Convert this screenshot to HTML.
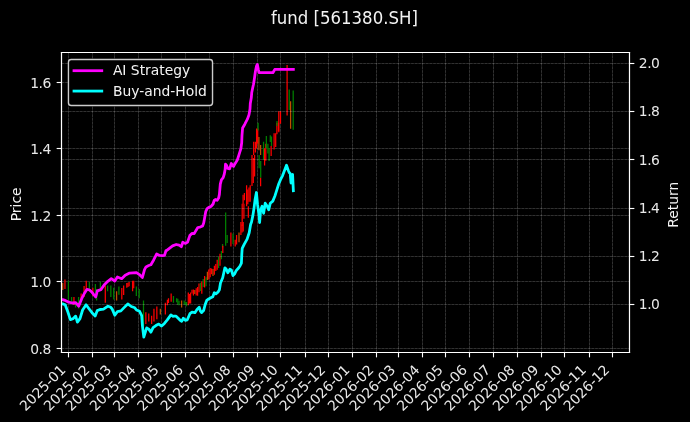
<!DOCTYPE html>
<html><head><meta charset="utf-8"><title>fund [561380.SH]</title>
<style>html,body{margin:0;padding:0;background:#000;width:690px;height:422px;overflow:hidden}
svg{display:block}
svg text{font-family:"DejaVu Sans","Liberation Sans",sans-serif}</style></head>
<body>
<svg width="690" height="422" viewBox="0 0 496.8 303.84" version="1.1">
 
 <defs>
  <style type="text/css">*{stroke-linejoin: round; stroke-linecap: butt}</style>
 </defs>
 <g id="figure_1">
  <g id="patch_1">
   <path d="M 0 303.84 
L 496.8 303.84 
L 496.8 0 
L 0 0 
z
"/>
  </g>
  <g id="axes_1">
   <g id="patch_2">
    <path d="M 44.28 253.8 
L 453.24 253.8 
L 453.24 37.8 
L 44.28 37.8 
z
"/>
   </g>
   <g id="line2d_1">
    <path d="M 44.28 250.92 
L 453.24 250.92 
" clip-path="url(#p5702a8e54e)" style="fill: none; stroke-dasharray: 1.85,0.8; stroke-dashoffset: 0; stroke: #ffffff; stroke-opacity: 0.18; stroke-width: 0.5"/>
   </g>
   <g id="line2d_2">
    <path d="M 44.28 250.92 
L 453.24 250.92 
" clip-path="url(#p5702a8e54e)" style="fill: none; stroke: #ffffff; stroke-opacity: 0.12; stroke-width: 0.5; stroke-linecap: square"/>
   </g>
   <g id="line2d_3">
    <path d="M 44.28 202.68 
L 453.24 202.68 
" clip-path="url(#p5702a8e54e)" style="fill: none; stroke-dasharray: 1.85,0.8; stroke-dashoffset: 0; stroke: #ffffff; stroke-opacity: 0.18; stroke-width: 0.5"/>
   </g>
   <g id="line2d_4">
    <path d="M 44.28 202.68 
L 453.24 202.68 
" clip-path="url(#p5702a8e54e)" style="fill: none; stroke: #ffffff; stroke-opacity: 0.12; stroke-width: 0.5; stroke-linecap: square"/>
   </g>
   <g id="line2d_5">
    <path d="M 44.28 155.16 
L 453.24 155.16 
" clip-path="url(#p5702a8e54e)" style="fill: none; stroke-dasharray: 1.85,0.8; stroke-dashoffset: 0; stroke: #ffffff; stroke-opacity: 0.18; stroke-width: 0.5"/>
   </g>
   <g id="line2d_6">
    <path d="M 44.28 155.16 
L 453.24 155.16 
" clip-path="url(#p5702a8e54e)" style="fill: none; stroke: #ffffff; stroke-opacity: 0.12; stroke-width: 0.5; stroke-linecap: square"/>
   </g>
   <g id="line2d_7">
    <path d="M 44.28 106.92 
L 453.24 106.92 
" clip-path="url(#p5702a8e54e)" style="fill: none; stroke-dasharray: 1.85,0.8; stroke-dashoffset: 0; stroke: #ffffff; stroke-opacity: 0.18; stroke-width: 0.5"/>
   </g>
   <g id="line2d_8">
    <path d="M 44.28 106.92 
L 453.24 106.92 
" clip-path="url(#p5702a8e54e)" style="fill: none; stroke: #ffffff; stroke-opacity: 0.12; stroke-width: 0.5; stroke-linecap: square"/>
   </g>
   <g id="line2d_9">
    <path d="M 44.28 59.4 
L 453.24 59.4 
" clip-path="url(#p5702a8e54e)" style="fill: none; stroke-dasharray: 1.85,0.8; stroke-dashoffset: 0; stroke: #ffffff; stroke-opacity: 0.18; stroke-width: 0.5"/>
   </g>
   <g id="line2d_10">
    <path d="M 44.28 59.4 
L 453.24 59.4 
" clip-path="url(#p5702a8e54e)" style="fill: none; stroke: #ffffff; stroke-opacity: 0.12; stroke-width: 0.5; stroke-linecap: square"/>
   </g>
   <g id="line2d_11">
    <path d="M 49.32 253.8 
L 49.32 37.8 
" clip-path="url(#p5702a8e54e)" style="fill: none; stroke-dasharray: 1.85,0.8; stroke-dashoffset: 0; stroke: #ffffff; stroke-opacity: 0.18; stroke-width: 0.5"/>
   </g>
   <g id="line2d_12">
    <path d="M 49.32 253.8 
L 49.32 37.8 
" clip-path="url(#p5702a8e54e)" style="fill: none; stroke: #ffffff; stroke-opacity: 0.12; stroke-width: 0.5; stroke-linecap: square"/>
   </g>
   <g id="line2d_13">
    <path d="M 66.6 253.8 
L 66.6 37.8 
" clip-path="url(#p5702a8e54e)" style="fill: none; stroke-dasharray: 1.85,0.8; stroke-dashoffset: 0; stroke: #ffffff; stroke-opacity: 0.18; stroke-width: 0.5"/>
   </g>
   <g id="line2d_14">
    <path d="M 66.6 253.8 
L 66.6 37.8 
" clip-path="url(#p5702a8e54e)" style="fill: none; stroke: #ffffff; stroke-opacity: 0.12; stroke-width: 0.5; stroke-linecap: square"/>
   </g>
   <g id="line2d_15">
    <path d="M 82.44 253.8 
L 82.44 37.8 
" clip-path="url(#p5702a8e54e)" style="fill: none; stroke-dasharray: 1.85,0.8; stroke-dashoffset: 0; stroke: #ffffff; stroke-opacity: 0.18; stroke-width: 0.5"/>
   </g>
   <g id="line2d_16">
    <path d="M 82.44 253.8 
L 82.44 37.8 
" clip-path="url(#p5702a8e54e)" style="fill: none; stroke: #ffffff; stroke-opacity: 0.12; stroke-width: 0.5; stroke-linecap: square"/>
   </g>
   <g id="line2d_17">
    <path d="M 99.72 253.8 
L 99.72 37.8 
" clip-path="url(#p5702a8e54e)" style="fill: none; stroke-dasharray: 1.85,0.8; stroke-dashoffset: 0; stroke: #ffffff; stroke-opacity: 0.18; stroke-width: 0.5"/>
   </g>
   <g id="line2d_18">
    <path d="M 99.72 253.8 
L 99.72 37.8 
" clip-path="url(#p5702a8e54e)" style="fill: none; stroke: #ffffff; stroke-opacity: 0.12; stroke-width: 0.5; stroke-linecap: square"/>
   </g>
   <g id="line2d_19">
    <path d="M 116.28 253.8 
L 116.28 37.8 
" clip-path="url(#p5702a8e54e)" style="fill: none; stroke-dasharray: 1.85,0.8; stroke-dashoffset: 0; stroke: #ffffff; stroke-opacity: 0.18; stroke-width: 0.5"/>
   </g>
   <g id="line2d_20">
    <path d="M 116.28 253.8 
L 116.28 37.8 
" clip-path="url(#p5702a8e54e)" style="fill: none; stroke: #ffffff; stroke-opacity: 0.12; stroke-width: 0.5; stroke-linecap: square"/>
   </g>
   <g id="line2d_21">
    <path d="M 133.56 253.8 
L 133.56 37.8 
" clip-path="url(#p5702a8e54e)" style="fill: none; stroke-dasharray: 1.85,0.8; stroke-dashoffset: 0; stroke: #ffffff; stroke-opacity: 0.18; stroke-width: 0.5"/>
   </g>
   <g id="line2d_22">
    <path d="M 133.56 253.8 
L 133.56 37.8 
" clip-path="url(#p5702a8e54e)" style="fill: none; stroke: #ffffff; stroke-opacity: 0.12; stroke-width: 0.5; stroke-linecap: square"/>
   </g>
   <g id="line2d_23">
    <path d="M 150.84 253.8 
L 150.84 37.8 
" clip-path="url(#p5702a8e54e)" style="fill: none; stroke-dasharray: 1.85,0.8; stroke-dashoffset: 0; stroke: #ffffff; stroke-opacity: 0.18; stroke-width: 0.5"/>
   </g>
   <g id="line2d_24">
    <path d="M 150.84 253.8 
L 150.84 37.8 
" clip-path="url(#p5702a8e54e)" style="fill: none; stroke: #ffffff; stroke-opacity: 0.12; stroke-width: 0.5; stroke-linecap: square"/>
   </g>
   <g id="line2d_25">
    <path d="M 168.12 253.8 
L 168.12 37.8 
" clip-path="url(#p5702a8e54e)" style="fill: none; stroke-dasharray: 1.85,0.8; stroke-dashoffset: 0; stroke: #ffffff; stroke-opacity: 0.18; stroke-width: 0.5"/>
   </g>
   <g id="line2d_26">
    <path d="M 168.12 253.8 
L 168.12 37.8 
" clip-path="url(#p5702a8e54e)" style="fill: none; stroke: #ffffff; stroke-opacity: 0.12; stroke-width: 0.5; stroke-linecap: square"/>
   </g>
   <g id="line2d_27">
    <path d="M 185.4 253.8 
L 185.4 37.8 
" clip-path="url(#p5702a8e54e)" style="fill: none; stroke-dasharray: 1.85,0.8; stroke-dashoffset: 0; stroke: #ffffff; stroke-opacity: 0.18; stroke-width: 0.5"/>
   </g>
   <g id="line2d_28">
    <path d="M 185.4 253.8 
L 185.4 37.8 
" clip-path="url(#p5702a8e54e)" style="fill: none; stroke: #ffffff; stroke-opacity: 0.12; stroke-width: 0.5; stroke-linecap: square"/>
   </g>
   <g id="line2d_29">
    <path d="M 201.96 253.8 
L 201.96 37.8 
" clip-path="url(#p5702a8e54e)" style="fill: none; stroke-dasharray: 1.85,0.8; stroke-dashoffset: 0; stroke: #ffffff; stroke-opacity: 0.18; stroke-width: 0.5"/>
   </g>
   <g id="line2d_30">
    <path d="M 201.96 253.8 
L 201.96 37.8 
" clip-path="url(#p5702a8e54e)" style="fill: none; stroke: #ffffff; stroke-opacity: 0.12; stroke-width: 0.5; stroke-linecap: square"/>
   </g>
   <g id="line2d_31">
    <path d="M 219.96 253.8 
L 219.96 37.8 
" clip-path="url(#p5702a8e54e)" style="fill: none; stroke-dasharray: 1.85,0.8; stroke-dashoffset: 0; stroke: #ffffff; stroke-opacity: 0.18; stroke-width: 0.5"/>
   </g>
   <g id="line2d_32">
    <path d="M 219.96 253.8 
L 219.96 37.8 
" clip-path="url(#p5702a8e54e)" style="fill: none; stroke: #ffffff; stroke-opacity: 0.12; stroke-width: 0.5; stroke-linecap: square"/>
   </g>
   <g id="line2d_33">
    <path d="M 236.52 253.8 
L 236.52 37.8 
" clip-path="url(#p5702a8e54e)" style="fill: none; stroke-dasharray: 1.85,0.8; stroke-dashoffset: 0; stroke: #ffffff; stroke-opacity: 0.18; stroke-width: 0.5"/>
   </g>
   <g id="line2d_34">
    <path d="M 236.52 253.8 
L 236.52 37.8 
" clip-path="url(#p5702a8e54e)" style="fill: none; stroke: #ffffff; stroke-opacity: 0.12; stroke-width: 0.5; stroke-linecap: square"/>
   </g>
   <g id="line2d_35">
    <path d="M 253.8 253.8 
L 253.8 37.8 
" clip-path="url(#p5702a8e54e)" style="fill: none; stroke-dasharray: 1.85,0.8; stroke-dashoffset: 0; stroke: #ffffff; stroke-opacity: 0.18; stroke-width: 0.5"/>
   </g>
   <g id="line2d_36">
    <path d="M 253.8 253.8 
L 253.8 37.8 
" clip-path="url(#p5702a8e54e)" style="fill: none; stroke: #ffffff; stroke-opacity: 0.12; stroke-width: 0.5; stroke-linecap: square"/>
   </g>
   <g id="line2d_37">
    <path d="M 271.08 253.8 
L 271.08 37.8 
" clip-path="url(#p5702a8e54e)" style="fill: none; stroke-dasharray: 1.85,0.8; stroke-dashoffset: 0; stroke: #ffffff; stroke-opacity: 0.18; stroke-width: 0.5"/>
   </g>
   <g id="line2d_38">
    <path d="M 271.08 253.8 
L 271.08 37.8 
" clip-path="url(#p5702a8e54e)" style="fill: none; stroke: #ffffff; stroke-opacity: 0.12; stroke-width: 0.5; stroke-linecap: square"/>
   </g>
   <g id="line2d_39">
    <path d="M 286.92 253.8 
L 286.92 37.8 
" clip-path="url(#p5702a8e54e)" style="fill: none; stroke-dasharray: 1.85,0.8; stroke-dashoffset: 0; stroke: #ffffff; stroke-opacity: 0.18; stroke-width: 0.5"/>
   </g>
   <g id="line2d_40">
    <path d="M 286.92 253.8 
L 286.92 37.8 
" clip-path="url(#p5702a8e54e)" style="fill: none; stroke: #ffffff; stroke-opacity: 0.12; stroke-width: 0.5; stroke-linecap: square"/>
   </g>
   <g id="line2d_41">
    <path d="M 304.2 253.8 
L 304.2 37.8 
" clip-path="url(#p5702a8e54e)" style="fill: none; stroke-dasharray: 1.85,0.8; stroke-dashoffset: 0; stroke: #ffffff; stroke-opacity: 0.18; stroke-width: 0.5"/>
   </g>
   <g id="line2d_42">
    <path d="M 304.2 253.8 
L 304.2 37.8 
" clip-path="url(#p5702a8e54e)" style="fill: none; stroke: #ffffff; stroke-opacity: 0.12; stroke-width: 0.5; stroke-linecap: square"/>
   </g>
   <g id="line2d_43">
    <path d="M 320.76 253.8 
L 320.76 37.8 
" clip-path="url(#p5702a8e54e)" style="fill: none; stroke-dasharray: 1.85,0.8; stroke-dashoffset: 0; stroke: #ffffff; stroke-opacity: 0.18; stroke-width: 0.5"/>
   </g>
   <g id="line2d_44">
    <path d="M 320.76 253.8 
L 320.76 37.8 
" clip-path="url(#p5702a8e54e)" style="fill: none; stroke: #ffffff; stroke-opacity: 0.12; stroke-width: 0.5; stroke-linecap: square"/>
   </g>
   <g id="line2d_45">
    <path d="M 338.04 253.8 
L 338.04 37.8 
" clip-path="url(#p5702a8e54e)" style="fill: none; stroke-dasharray: 1.85,0.8; stroke-dashoffset: 0; stroke: #ffffff; stroke-opacity: 0.18; stroke-width: 0.5"/>
   </g>
   <g id="line2d_46">
    <path d="M 338.04 253.8 
L 338.04 37.8 
" clip-path="url(#p5702a8e54e)" style="fill: none; stroke: #ffffff; stroke-opacity: 0.12; stroke-width: 0.5; stroke-linecap: square"/>
   </g>
   <g id="line2d_47">
    <path d="M 355.32 253.8 
L 355.32 37.8 
" clip-path="url(#p5702a8e54e)" style="fill: none; stroke-dasharray: 1.85,0.8; stroke-dashoffset: 0; stroke: #ffffff; stroke-opacity: 0.18; stroke-width: 0.5"/>
   </g>
   <g id="line2d_48">
    <path d="M 355.32 253.8 
L 355.32 37.8 
" clip-path="url(#p5702a8e54e)" style="fill: none; stroke: #ffffff; stroke-opacity: 0.12; stroke-width: 0.5; stroke-linecap: square"/>
   </g>
   <g id="line2d_49">
    <path d="M 372.6 253.8 
L 372.6 37.8 
" clip-path="url(#p5702a8e54e)" style="fill: none; stroke-dasharray: 1.85,0.8; stroke-dashoffset: 0; stroke: #ffffff; stroke-opacity: 0.18; stroke-width: 0.5"/>
   </g>
   <g id="line2d_50">
    <path d="M 372.6 253.8 
L 372.6 37.8 
" clip-path="url(#p5702a8e54e)" style="fill: none; stroke: #ffffff; stroke-opacity: 0.12; stroke-width: 0.5; stroke-linecap: square"/>
   </g>
   <g id="line2d_51">
    <path d="M 389.88 253.8 
L 389.88 37.8 
" clip-path="url(#p5702a8e54e)" style="fill: none; stroke-dasharray: 1.85,0.8; stroke-dashoffset: 0; stroke: #ffffff; stroke-opacity: 0.18; stroke-width: 0.5"/>
   </g>
   <g id="line2d_52">
    <path d="M 389.88 253.8 
L 389.88 37.8 
" clip-path="url(#p5702a8e54e)" style="fill: none; stroke: #ffffff; stroke-opacity: 0.12; stroke-width: 0.5; stroke-linecap: square"/>
   </g>
   <g id="line2d_53">
    <path d="M 406.44 253.8 
L 406.44 37.8 
" clip-path="url(#p5702a8e54e)" style="fill: none; stroke-dasharray: 1.85,0.8; stroke-dashoffset: 0; stroke: #ffffff; stroke-opacity: 0.18; stroke-width: 0.5"/>
   </g>
   <g id="line2d_54">
    <path d="M 406.44 253.8 
L 406.44 37.8 
" clip-path="url(#p5702a8e54e)" style="fill: none; stroke: #ffffff; stroke-opacity: 0.12; stroke-width: 0.5; stroke-linecap: square"/>
   </g>
   <g id="line2d_55">
    <path d="M 424.44 253.8 
L 424.44 37.8 
" clip-path="url(#p5702a8e54e)" style="fill: none; stroke-dasharray: 1.85,0.8; stroke-dashoffset: 0; stroke: #ffffff; stroke-opacity: 0.18; stroke-width: 0.5"/>
   </g>
   <g id="line2d_56">
    <path d="M 424.44 253.8 
L 424.44 37.8 
" clip-path="url(#p5702a8e54e)" style="fill: none; stroke: #ffffff; stroke-opacity: 0.12; stroke-width: 0.5; stroke-linecap: square"/>
   </g>
   <g id="line2d_57">
    <path d="M 441 253.8 
L 441 37.8 
" clip-path="url(#p5702a8e54e)" style="fill: none; stroke-dasharray: 1.85,0.8; stroke-dashoffset: 0; stroke: #ffffff; stroke-opacity: 0.18; stroke-width: 0.5"/>
   </g>
   <g id="line2d_58">
    <path d="M 441 253.8 
L 441 37.8 
" clip-path="url(#p5702a8e54e)" style="fill: none; stroke: #ffffff; stroke-opacity: 0.12; stroke-width: 0.5; stroke-linecap: square"/>
   </g>
   <g id="matplotlib.axis_1">
    <g id="xtick_1">
     <g id="line2d_59">
      <g>
       <path d="M 0 0  L 0 3.5  " transform="translate(49.3200 253.8000)" style="fill: #ffffff; stroke: #ffffff; stroke-width: 0.8"/>
      </g>
     </g>
     <g id="text_1">
      <g transform="translate(0.000 0.720)"><text style="font-size: 10px; font-family: 'DejaVu Sans', 'Liberation Sans', sans-serif; fill: #e9e9e9" transform="translate(18.306501 295.717817) rotate(-45)">2025-01</text></g>
     </g>
    </g>
    <g id="xtick_2">
     <g id="line2d_60">
      <g>
       <path d="M 0 0  L 0 3.5  " transform="translate(66.6000 253.8000)" style="fill: #ffffff; stroke: #ffffff; stroke-width: 0.8"/>
      </g>
     </g>
     <g id="text_2">
      <g transform="translate(0.000 0.720)"><text style="font-size: 10px; font-family: 'DejaVu Sans', 'Liberation Sans', sans-serif; fill: #e9e9e9" transform="translate(35.673296 295.717817) rotate(-45)">2025-02</text></g>
     </g>
    </g>
    <g id="xtick_3">
     <g id="line2d_61">
      <g>
       <path d="M 0 0  L 0 3.5  " transform="translate(82.4400 253.8000)" style="fill: #ffffff; stroke: #ffffff; stroke-width: 0.8"/>
      </g>
     </g>
     <g id="text_3">
      <g transform="translate(0.000 0.720)"><text style="font-size: 10px; font-family: 'DejaVu Sans', 'Liberation Sans', sans-serif; fill: #e9e9e9" transform="translate(51.359433 295.717817) rotate(-45)">2025-03</text></g>
     </g>
    </g>
    <g id="xtick_4">
     <g id="line2d_62">
      <g>
       <path d="M 0 0  L 0 3.5  " transform="translate(99.7200 253.8000)" style="fill: #ffffff; stroke: #ffffff; stroke-width: 0.8"/>
      </g>
     </g>
     <g id="text_4">
      <g transform="translate(0.000 0.720)"><text style="font-size: 10px; font-family: 'DejaVu Sans', 'Liberation Sans', sans-serif; fill: #e9e9e9" transform="translate(68.726227 295.717817) rotate(-45)">2025-04</text></g>
     </g>
    </g>
    <g id="xtick_5">
     <g id="line2d_63">
      <g>
       <path d="M 0 0  L 0 3.5  " transform="translate(116.2800 253.8000)" style="fill: #ffffff; stroke: #ffffff; stroke-width: 0.8"/>
      </g>
     </g>
     <g id="text_5">
      <g transform="translate(0.000 0.720)"><text style="font-size: 10px; font-family: 'DejaVu Sans', 'Liberation Sans', sans-serif; fill: #e9e9e9" transform="translate(85.532803 295.717817) rotate(-45)">2025-05</text></g>
     </g>
    </g>
    <g id="xtick_6">
     <g id="line2d_64">
      <g>
       <path d="M 0 0  L 0 3.5  " transform="translate(133.5600 253.8000)" style="fill: #ffffff; stroke: #ffffff; stroke-width: 0.8"/>
      </g>
     </g>
     <g id="text_6">
      <g transform="translate(0.000 0.720)"><text style="font-size: 10px; font-family: 'DejaVu Sans', 'Liberation Sans', sans-serif; fill: #e9e9e9" transform="translate(102.899597 295.717817) rotate(-45)">2025-06</text></g>
     </g>
    </g>
    <g id="xtick_7">
     <g id="line2d_65">
      <g>
       <path d="M 0 0  L 0 3.5  " transform="translate(150.8400 253.8000)" style="fill: #ffffff; stroke: #ffffff; stroke-width: 0.8"/>
      </g>
     </g>
     <g id="text_7">
      <g transform="translate(0.000 0.720)"><text style="font-size: 10px; font-family: 'DejaVu Sans', 'Liberation Sans', sans-serif; fill: #e9e9e9" transform="translate(119.706173 295.717817) rotate(-45)">2025-07</text></g>
     </g>
    </g>
    <g id="xtick_8">
     <g id="line2d_66">
      <g>
       <path d="M 0 0  L 0 3.5  " transform="translate(168.1200 253.8000)" style="fill: #ffffff; stroke: #ffffff; stroke-width: 0.8"/>
      </g>
     </g>
     <g id="text_8">
      <g transform="translate(0.000 0.720)"><text style="font-size: 10px; font-family: 'DejaVu Sans', 'Liberation Sans', sans-serif; fill: #e9e9e9" transform="translate(137.072967 295.717817) rotate(-45)">2025-08</text></g>
     </g>
    </g>
    <g id="xtick_9">
     <g id="line2d_67">
      <g>
       <path d="M 0 0  L 0 3.5  " transform="translate(185.4000 253.8000)" style="fill: #ffffff; stroke: #ffffff; stroke-width: 0.8"/>
      </g>
     </g>
     <g id="text_9">
      <g transform="translate(0.000 0.720)"><text style="font-size: 10px; font-family: 'DejaVu Sans', 'Liberation Sans', sans-serif; fill: #e9e9e9" transform="translate(154.439762 295.717817) rotate(-45)">2025-09</text></g>
     </g>
    </g>
    <g id="xtick_10">
     <g id="line2d_68">
      <g>
       <path d="M 0 0  L 0 3.5  " transform="translate(201.9600 253.8000)" style="fill: #ffffff; stroke: #ffffff; stroke-width: 0.8"/>
      </g>
     </g>
     <g id="text_10">
      <g transform="translate(0.000 0.720)"><text style="font-size: 10px; font-family: 'DejaVu Sans', 'Liberation Sans', sans-serif; fill: #e9e9e9" transform="translate(171.246337 295.717817) rotate(-45)">2025-10</text></g>
     </g>
    </g>
    <g id="xtick_11">
     <g id="line2d_69">
      <g>
       <path d="M 0 0  L 0 3.5  " transform="translate(219.9600 253.8000)" style="fill: #ffffff; stroke: #ffffff; stroke-width: 0.8"/>
      </g>
     </g>
     <g id="text_11">
      <g transform="translate(0.000 0.720)"><text style="font-size: 10px; font-family: 'DejaVu Sans', 'Liberation Sans', sans-serif; fill: #e9e9e9" transform="translate(188.613132 295.717817) rotate(-45)">2025-11</text></g>
     </g>
    </g>
    <g id="xtick_12">
     <g id="line2d_70">
      <g>
       <path d="M 0 0  L 0 3.5  " transform="translate(236.5200 253.8000)" style="fill: #ffffff; stroke: #ffffff; stroke-width: 0.8"/>
      </g>
     </g>
     <g id="text_12">
      <g transform="translate(0.000 0.720)"><text style="font-size: 10px; font-family: 'DejaVu Sans', 'Liberation Sans', sans-serif; fill: #e9e9e9" transform="translate(205.419707 295.717817) rotate(-45)">2025-12</text></g>
     </g>
    </g>
    <g id="xtick_13">
     <g id="line2d_71">
      <g>
       <path d="M 0 0  L 0 3.5  " transform="translate(253.8000 253.8000)" style="fill: #ffffff; stroke: #ffffff; stroke-width: 0.8"/>
      </g>
     </g>
     <g id="text_13">
      <g transform="translate(0.000 0.720)"><text style="font-size: 10px; font-family: 'DejaVu Sans', 'Liberation Sans', sans-serif; fill: #e9e9e9" transform="translate(222.786501 295.717817) rotate(-45)">2026-01</text></g>
     </g>
    </g>
    <g id="xtick_14">
     <g id="line2d_72">
      <g>
       <path d="M 0 0  L 0 3.5  " transform="translate(271.0800 253.8000)" style="fill: #ffffff; stroke: #ffffff; stroke-width: 0.8"/>
      </g>
     </g>
     <g id="text_14">
      <g transform="translate(0.000 0.720)"><text style="font-size: 10px; font-family: 'DejaVu Sans', 'Liberation Sans', sans-serif; fill: #e9e9e9" transform="translate(240.153296 295.717817) rotate(-45)">2026-02</text></g>
     </g>
    </g>
    <g id="xtick_15">
     <g id="line2d_73">
      <g>
       <path d="M 0 0  L 0 3.5  " transform="translate(286.9200 253.8000)" style="fill: #ffffff; stroke: #ffffff; stroke-width: 0.8"/>
      </g>
     </g>
     <g id="text_15">
      <g transform="translate(0.000 0.720)"><text style="font-size: 10px; font-family: 'DejaVu Sans', 'Liberation Sans', sans-serif; fill: #e9e9e9" transform="translate(255.839433 295.717817) rotate(-45)">2026-03</text></g>
     </g>
    </g>
    <g id="xtick_16">
     <g id="line2d_74">
      <g>
       <path d="M 0 0  L 0 3.5  " transform="translate(304.2000 253.8000)" style="fill: #ffffff; stroke: #ffffff; stroke-width: 0.8"/>
      </g>
     </g>
     <g id="text_16">
      <g transform="translate(0.000 0.720)"><text style="font-size: 10px; font-family: 'DejaVu Sans', 'Liberation Sans', sans-serif; fill: #e9e9e9" transform="translate(273.206227 295.717817) rotate(-45)">2026-04</text></g>
     </g>
    </g>
    <g id="xtick_17">
     <g id="line2d_75">
      <g>
       <path d="M 0 0  L 0 3.5  " transform="translate(320.7600 253.8000)" style="fill: #ffffff; stroke: #ffffff; stroke-width: 0.8"/>
      </g>
     </g>
     <g id="text_17">
      <g transform="translate(0.000 0.720)"><text style="font-size: 10px; font-family: 'DejaVu Sans', 'Liberation Sans', sans-serif; fill: #e9e9e9" transform="translate(290.012803 295.717817) rotate(-45)">2026-05</text></g>
     </g>
    </g>
    <g id="xtick_18">
     <g id="line2d_76">
      <g>
       <path d="M 0 0  L 0 3.5  " transform="translate(338.0400 253.8000)" style="fill: #ffffff; stroke: #ffffff; stroke-width: 0.8"/>
      </g>
     </g>
     <g id="text_18">
      <g transform="translate(0.000 0.720)"><text style="font-size: 10px; font-family: 'DejaVu Sans', 'Liberation Sans', sans-serif; fill: #e9e9e9" transform="translate(307.379597 295.717817) rotate(-45)">2026-06</text></g>
     </g>
    </g>
    <g id="xtick_19">
     <g id="line2d_77">
      <g>
       <path d="M 0 0  L 0 3.5  " transform="translate(355.3200 253.8000)" style="fill: #ffffff; stroke: #ffffff; stroke-width: 0.8"/>
      </g>
     </g>
     <g id="text_19">
      <g transform="translate(0.000 0.720)"><text style="font-size: 10px; font-family: 'DejaVu Sans', 'Liberation Sans', sans-serif; fill: #e9e9e9" transform="translate(324.186173 295.717817) rotate(-45)">2026-07</text></g>
     </g>
    </g>
    <g id="xtick_20">
     <g id="line2d_78">
      <g>
       <path d="M 0 0  L 0 3.5  " transform="translate(372.6000 253.8000)" style="fill: #ffffff; stroke: #ffffff; stroke-width: 0.8"/>
      </g>
     </g>
     <g id="text_20">
      <g transform="translate(0.000 0.720)"><text style="font-size: 10px; font-family: 'DejaVu Sans', 'Liberation Sans', sans-serif; fill: #e9e9e9" transform="translate(341.552967 295.717817) rotate(-45)">2026-08</text></g>
     </g>
    </g>
    <g id="xtick_21">
     <g id="line2d_79">
      <g>
       <path d="M 0 0  L 0 3.5  " transform="translate(389.8800 253.8000)" style="fill: #ffffff; stroke: #ffffff; stroke-width: 0.8"/>
      </g>
     </g>
     <g id="text_21">
      <g transform="translate(0.000 0.720)"><text style="font-size: 10px; font-family: 'DejaVu Sans', 'Liberation Sans', sans-serif; fill: #e9e9e9" transform="translate(358.919762 295.717817) rotate(-45)">2026-09</text></g>
     </g>
    </g>
    <g id="xtick_22">
     <g id="line2d_80">
      <g>
       <path d="M 0 0  L 0 3.5  " transform="translate(406.4400 253.8000)" style="fill: #ffffff; stroke: #ffffff; stroke-width: 0.8"/>
      </g>
     </g>
     <g id="text_22">
      <g transform="translate(0.000 0.720)"><text style="font-size: 10px; font-family: 'DejaVu Sans', 'Liberation Sans', sans-serif; fill: #e9e9e9" transform="translate(375.726337 295.717817) rotate(-45)">2026-10</text></g>
     </g>
    </g>
    <g id="xtick_23">
     <g id="line2d_81">
      <g>
       <path d="M 0 0  L 0 3.5  " transform="translate(424.4400 253.8000)" style="fill: #ffffff; stroke: #ffffff; stroke-width: 0.8"/>
      </g>
     </g>
     <g id="text_23">
      <g transform="translate(0.000 0.720)"><text style="font-size: 10px; font-family: 'DejaVu Sans', 'Liberation Sans', sans-serif; fill: #e9e9e9" transform="translate(393.093132 295.717817) rotate(-45)">2026-11</text></g>
     </g>
    </g>
    <g id="xtick_24">
     <g id="line2d_82">
      <g>
       <path d="M 0 0  L 0 3.5  " transform="translate(441.0000 253.8000)" style="fill: #ffffff; stroke: #ffffff; stroke-width: 0.8"/>
      </g>
     </g>
     <g id="text_24">
      <g transform="translate(0.000 0.720)"><text style="font-size: 10px; font-family: 'DejaVu Sans', 'Liberation Sans', sans-serif; fill: #e9e9e9" transform="translate(409.899707 295.717817) rotate(-45)">2026-12</text></g>
     </g>
    </g>
   </g>
   <g id="matplotlib.axis_2">
    <g id="ytick_1">
     <g id="line2d_83">
      <g>
       <path d="M 0 0  L -3.5 0  " transform="translate(44.2800 250.9200)" style="fill: #ffffff; stroke: #ffffff; stroke-width: 0.8"/>
      </g>
     </g>
     <g id="text_25">
      <g transform="translate(-0.720 0.000)"><text style="letter-spacing: -0.35px; font-size: 10px; font-family: 'DejaVu Sans', 'Liberation Sans', sans-serif; text-anchor: end; fill: #e9e9e9" x="37.28" y="254.589619" transform="rotate(-0 37.28 254.589619)">0.8</text></g>
     </g>
    </g>
    <g id="ytick_2">
     <g id="line2d_84">
      <g>
       <path d="M 0 0  L -3.5 0  " transform="translate(44.2800 202.6800)" style="fill: #ffffff; stroke: #ffffff; stroke-width: 0.8"/>
      </g>
     </g>
     <g id="text_26">
      <g transform="translate(-0.720 0.000)"><text style="letter-spacing: -0.35px; font-size: 10px; font-family: 'DejaVu Sans', 'Liberation Sans', sans-serif; text-anchor: end; fill: #e9e9e9" x="37.28" y="206.724019" transform="rotate(-0 37.28 206.724019)">1.0</text></g>
     </g>
    </g>
    <g id="ytick_3">
     <g id="line2d_85">
      <g>
       <path d="M 0 0  L -3.5 0  " transform="translate(44.2800 155.1600)" style="fill: #ffffff; stroke: #ffffff; stroke-width: 0.8"/>
      </g>
     </g>
     <g id="text_27">
      <g transform="translate(-0.720 0.000)"><text style="letter-spacing: -0.35px; font-size: 10px; font-family: 'DejaVu Sans', 'Liberation Sans', sans-serif; text-anchor: end; fill: #e9e9e9" x="37.28" y="158.858419" transform="rotate(-0 37.28 158.858419)">1.2</text></g>
     </g>
    </g>
    <g id="ytick_4">
     <g id="line2d_86">
      <g>
       <path d="M 0 0  L -3.5 0  " transform="translate(44.2800 106.9200)" style="fill: #ffffff; stroke: #ffffff; stroke-width: 0.8"/>
      </g>
     </g>
     <g id="text_28">
      <g transform="translate(-0.720 0.000)"><text style="letter-spacing: -0.35px; font-size: 10px; font-family: 'DejaVu Sans', 'Liberation Sans', sans-serif; text-anchor: end; fill: #e9e9e9" x="37.28" y="110.992819" transform="rotate(-0 37.28 110.992819)">1.4</text></g>
     </g>
    </g>
    <g id="ytick_5">
     <g id="line2d_87">
      <g>
       <path d="M 0 0  L -3.5 0  " transform="translate(44.2800 59.4000)" style="fill: #ffffff; stroke: #ffffff; stroke-width: 0.8"/>
      </g>
     </g>
     <g id="text_29">
      <g transform="translate(-0.720 0.000)"><text style="letter-spacing: -0.35px; font-size: 10px; font-family: 'DejaVu Sans', 'Liberation Sans', sans-serif; text-anchor: end; fill: #e9e9e9" x="37.28" y="63.127219" transform="rotate(-0 37.28 63.127219)">1.6</text></g>
     </g>
    </g>
    <g id="text_30">
     <g transform="translate(0.000 1.332)"><text style="font-size: 10px; font-family: 'DejaVu Sans', 'Liberation Sans', sans-serif; text-anchor: middle; fill: #f3f3f3" x="15.297187" y="145.8" transform="rotate(-90 15.297187 145.8)">Price</text></g>
    </g>
   </g>
   <g id="LineCollection_1">
    <path d="M 45.144 208.8 
L 45.144 203.76 
" clip-path="url(#p5702a8e54e)" style="fill: none; stroke: #c05000; stroke-width: 0.9"/>
   </g>
   <g id="LineCollection_2">
    <path d="M 46.764 208.008 
L 46.764 201.312 
" clip-path="url(#p5702a8e54e)" style="fill: none; stroke: #ff0000; stroke-width: 0.9"/>
   </g>
   <g id="LineCollection_3">
    <path d="M 49.248 215.568 
L 49.248 202.176 
" clip-path="url(#p5702a8e54e)" style="fill: none; stroke: #008000; stroke-width: 0.9"/>
   </g>
   <g id="LineCollection_4">
    <path d="M 51.552 218.88 
L 51.552 213.84 
" clip-path="url(#p5702a8e54e)" style="fill: none; stroke: #008000; stroke-width: 0.9"/>
   </g>
   <g id="LineCollection_5">
    <path d="M 53.244 219.6 
L 53.244 213.84 
" clip-path="url(#p5702a8e54e)" style="fill: none; stroke: #ff0000; stroke-width: 0.9"/>
   </g>
   <g id="LineCollection_6">
    <path d="M 54.468 221.4 
L 54.468 218.16 
" clip-path="url(#p5702a8e54e)" style="fill: none; stroke: #008000; stroke-width: 0.9"/>
   </g>
   <g id="LineCollection_7">
    <path d="M 56.592 222.192 
L 56.592 213.84 
" clip-path="url(#p5702a8e54e)" style="fill: none; stroke: #008000; stroke-width: 0.9"/>
   </g>
   <g id="LineCollection_8">
    <path d="M 58.428 216.36 
L 58.428 211.32 
" clip-path="url(#p5702a8e54e)" style="fill: none; stroke: #ff0000; stroke-width: 0.9"/>
   </g>
   <g id="LineCollection_9">
    <path d="M 60.552 213.84 
L 60.552 205.92 
" clip-path="url(#p5702a8e54e)" style="fill: none; stroke: #ff0000; stroke-width: 0.9"/>
   </g>
   <g id="LineCollection_10">
    <path d="M 62.1 210.24 
L 62.1 202.176 
" clip-path="url(#p5702a8e54e)" style="fill: none; stroke: #ff0000; stroke-width: 0.9"/>
   </g>
   <g id="LineCollection_11">
    <path d="M 64.332 209.52 
L 64.332 203.04 
" clip-path="url(#p5702a8e54e)" style="fill: none; stroke: #008000; stroke-width: 0.9"/>
   </g>
   <g id="LineCollection_12">
    <path d="M 66.852 213.048 
L 66.852 207.144 
" clip-path="url(#p5702a8e54e)" style="fill: none; stroke: #ff0000; stroke-width: 0.9"/>
   </g>
   <g id="LineCollection_13">
    <path d="M 68.688 211.33129 
L 68.688 204.48 
" clip-path="url(#p5702a8e54e)" style="fill: none; stroke: #008000; stroke-width: 0.9"/>
   </g>
   <g id="LineCollection_14">
    <path d="M 69.552 216.36 
L 69.552 208.003094 
" clip-path="url(#p5702a8e54e)" style="fill: none; stroke: #008000; stroke-width: 0.9"/>
   </g>
   <g id="LineCollection_15">
    <path d="M 72.252 209.52 
L 72.252 203.04 
" clip-path="url(#p5702a8e54e)" style="fill: none; stroke: #008000; stroke-width: 0.9"/>
   </g>
   <g id="LineCollection_16">
    <path d="M 75.816 218.016 
L 75.816 205.488 
" clip-path="url(#p5702a8e54e)" style="fill: none; stroke: #ff0000; stroke-width: 0.9"/>
   </g>
   <g id="LineCollection_17">
    <path d="M 77.472 209.664 
L 77.472 205.488 
" clip-path="url(#p5702a8e54e)" style="fill: none; stroke: #008000; stroke-width: 0.9"/>
   </g>
   <g id="LineCollection_18">
    <path d="M 79.812 213.84 
L 79.812 205.488 
" clip-path="url(#p5702a8e54e)" style="fill: none; stroke: #008000; stroke-width: 0.9"/>
   </g>
   <g id="LineCollection_19">
    <path d="M 81.864 215.568 
L 81.864 207.144 
" clip-path="url(#p5702a8e54e)" style="fill: none; stroke: #008000; stroke-width: 0.9"/>
   </g>
   <g id="LineCollection_20">
    <path d="M 83.952 216.36 
L 83.952 209.664 
" clip-path="url(#p5702a8e54e)" style="fill: none; stroke: #c05000; stroke-width: 0.9"/>
   </g>
   <g id="LineCollection_21">
    <path d="M 85.608 212.184 
L 85.608 206.352 
" clip-path="url(#p5702a8e54e)" style="fill: none; stroke: #008000; stroke-width: 0.9"/>
   </g>
   <g id="LineCollection_22">
    <path d="M 87.696 215.568 
L 87.696 207.36 
" clip-path="url(#p5702a8e54e)" style="fill: none; stroke: #ff0000; stroke-width: 0.9"/>
   </g>
   <g id="LineCollection_23">
    <path d="M 89.028 212.4 
L 89.028 205.488 
" clip-path="url(#p5702a8e54e)" style="fill: none; stroke: #ff0000; stroke-width: 0.9"/>
   </g>
   <g id="LineCollection_24">
    <path d="M 91.296 207.144 
L 91.296 203.847615 
" clip-path="url(#p5702a8e54e)" style="fill: none; stroke: #ff0000; stroke-width: 0.9"/>
   </g>
   <g id="LineCollection_25">
    <path d="M 92.124 206.607348 
L 92.124 203.576652 
" clip-path="url(#p5702a8e54e)" style="fill: none; stroke: #ff0000; stroke-width: 0.9"/>
   </g>
   <g id="LineCollection_26">
    <path d="M 92.952 206.017009 
L 92.952 203.04 
" clip-path="url(#p5702a8e54e)" style="fill: none; stroke: #ff0000; stroke-width: 0.9"/>
   </g>
   <g id="LineCollection_27">
    <path d="M 95.472 209.664 
L 95.472 202.176 
" clip-path="url(#p5702a8e54e)" style="fill: none; stroke: #ff0000; stroke-width: 0.9"/>
   </g>
   <g id="LineCollection_28">
    <path d="M 96.264 207.604492 
L 96.264 202.176 
" clip-path="url(#p5702a8e54e)" style="fill: none; stroke: #ff0000; stroke-width: 0.9"/>
   </g>
   <g id="LineCollection_29">
    <path d="M 98.172 213.048 
L 98.172 206.352 
" clip-path="url(#p5702a8e54e)" style="fill: none; stroke: #008000; stroke-width: 0.9"/>
   </g>
   <g id="LineCollection_30">
    <path d="M 100.224 214.704 
L 100.224 208.08 
" clip-path="url(#p5702a8e54e)" style="fill: none; stroke: #008000; stroke-width: 0.9"/>
   </g>
   <g id="LineCollection_31">
    <path d="M 103.32 234.864 
L 103.32 216.432 
" clip-path="url(#p5702a8e54e)" style="fill: none; stroke: #008000; stroke-width: 0.9"/>
   </g>
   <g id="LineCollection_32">
    <path d="M 105.012 233.208 
L 105.012 224.856 
" clip-path="url(#p5702a8e54e)" style="fill: none; stroke: #ff0000; stroke-width: 0.9"/>
   </g>
   <g id="LineCollection_33">
    <path d="M 107.1 231.552 
L 107.1 225.648 
" clip-path="url(#p5702a8e54e)" style="fill: none; stroke: #ff0000; stroke-width: 0.9"/>
   </g>
   <g id="LineCollection_34">
    <path d="M 109.188 233.208 
L 109.188 227.304 
" clip-path="url(#p5702a8e54e)" style="fill: none; stroke: #ff0000; stroke-width: 0.9"/>
   </g>
   <g id="LineCollection_35">
    <path d="M 110.844 231.552 
L 110.844 222.336 
" clip-path="url(#p5702a8e54e)" style="fill: none; stroke: #ff0000; stroke-width: 0.9"/>
   </g>
   <g id="LineCollection_36">
    <path d="M 112.932 229.824 
L 112.932 220.68 
" clip-path="url(#p5702a8e54e)" style="fill: none; stroke: #ff0000; stroke-width: 0.9"/>
   </g>
   <g id="LineCollection_37">
    <path d="M 115.452 226.512 
L 115.452 222.336 
" clip-path="url(#p5702a8e54e)" style="fill: none; stroke: #c05000; stroke-width: 0.9"/>
   </g>
   <g id="LineCollection_38">
    <path d="M 119.052 226.44 
L 119.052 218.016 
" clip-path="url(#p5702a8e54e)" style="fill: none; stroke: #ff0000; stroke-width: 0.9"/>
   </g>
   <g id="LineCollection_39">
    <path d="M 120.528 219.744 
L 120.528 215.773838 
" clip-path="url(#p5702a8e54e)" style="fill: none; stroke: #ff0000; stroke-width: 0.9"/>
   </g>
   <g id="LineCollection_40">
    <path d="M 121.32 218.14798 
L 121.32 214.704 
" clip-path="url(#p5702a8e54e)" style="fill: none; stroke: #ff0000; stroke-width: 0.9"/>
   </g>
   <g id="LineCollection_41">
    <path d="M 123.228 217.224 
L 123.228 211.32 
" clip-path="url(#p5702a8e54e)" style="fill: none; stroke: #ff0000; stroke-width: 0.9"/>
   </g>
   <g id="LineCollection_42">
    <path d="M 124.884 218.016 
L 124.884 213.048 
" clip-path="url(#p5702a8e54e)" style="fill: none; stroke: #008000; stroke-width: 0.9"/>
   </g>
   <g id="LineCollection_43">
    <path d="M 127.152 217.592312 
L 127.152 214.704 
" clip-path="url(#p5702a8e54e)" style="fill: none; stroke: #008000; stroke-width: 0.9"/>
   </g>
   <g id="LineCollection_44">
    <path d="M 128.016 219.412261 
L 128.016 215.035739 
" clip-path="url(#p5702a8e54e)" style="fill: none; stroke: #008000; stroke-width: 0.9"/>
   </g>
   <g id="LineCollection_45">
    <path d="M 128.88 219.744 
L 128.88 216.595588 
" clip-path="url(#p5702a8e54e)" style="fill: none; stroke: #008000; stroke-width: 0.9"/>
   </g>
   <g id="LineCollection_46">
    <path d="M 130.752 221.4 
L 130.752 216.36 
" clip-path="url(#p5702a8e54e)" style="fill: none; stroke: #c05000; stroke-width: 0.9"/>
   </g>
   <g id="LineCollection_47">
    <path d="M 132.624 219.317624 
L 132.624 216.36 
" clip-path="url(#p5702a8e54e)" style="fill: none; stroke: #008000; stroke-width: 0.9"/>
   </g>
   <g id="LineCollection_48">
    <path d="M 133.452 219.614596 
L 133.452 217.281404 
" clip-path="url(#p5702a8e54e)" style="fill: none; stroke: #008000; stroke-width: 0.9"/>
   </g>
   <g id="LineCollection_49">
    <path d="M 134.28 220.536 
L 134.28 217.361438 
" clip-path="url(#p5702a8e54e)" style="fill: none; stroke: #008000; stroke-width: 0.9"/>
   </g>
   <g id="LineCollection_50">
    <path d="M 135.576 219.744 
L 135.576 210.528 
" clip-path="url(#p5702a8e54e)" style="fill: none; stroke: #ff0000; stroke-width: 0.9"/>
   </g>
   <g id="LineCollection_51">
    <path d="M 136.404 218.555005 
L 136.404 211.716995 
" clip-path="url(#p5702a8e54e)" style="fill: none; stroke: #ff0000; stroke-width: 0.9"/>
   </g>
   <g id="LineCollection_52">
    <path d="M 137.232 218.529284 
L 137.232 210.528 
" clip-path="url(#p5702a8e54e)" style="fill: none; stroke: #ff0000; stroke-width: 0.9"/>
   </g>
   <g id="LineCollection_53">
    <path d="M 160.236 178.128 
L 160.236 175.68 
" clip-path="url(#p5702a8e54e)" style="fill: none; stroke: #008000; stroke-width: 0.9"/>
   </g>
   <g id="LineCollection_54">
    <path d="M 162.468 176.904 
L 162.468 153.072 
" clip-path="url(#p5702a8e54e)" style="fill: none; stroke: #008000; stroke-width: 0.9"/>
   </g>
   <g id="LineCollection_55">
    <path d="M 163.548 174.96 
L 163.548 169.2 
" clip-path="url(#p5702a8e54e)" style="fill: none; stroke: #008000; stroke-width: 0.9"/>
   </g>
   <g id="LineCollection_56">
    <path d="M 166.248 177.552 
L 166.248 167.4 
" clip-path="url(#p5702a8e54e)" style="fill: none; stroke: #ff0000; stroke-width: 0.9"/>
   </g>
   <g id="LineCollection_57">
    <path d="M 167.796 175.68 
L 167.796 168.048 
" clip-path="url(#p5702a8e54e)" style="fill: none; stroke: #008000; stroke-width: 0.9"/>
   </g>
   <g id="LineCollection_58">
    <path d="M 169.344 177.552 
L 169.344 172.569119 
" clip-path="url(#p5702a8e54e)" style="fill: none; stroke: #ff0000; stroke-width: 0.9"/>
   </g>
   <g id="LineCollection_59">
    <path d="M 170.352 175.987198 
L 170.352 169.2 
" clip-path="url(#p5702a8e54e)" style="fill: none; stroke: #ff0000; stroke-width: 0.9"/>
   </g>
   <g id="LineCollection_60">
    <path d="M 172.08 174.384 
L 172.08 167.4 
" clip-path="url(#p5702a8e54e)" style="fill: none; stroke: #c05000; stroke-width: 0.9"/>
   </g>
   <g id="LineCollection_61">
    <path d="M 173.448 169.2 
L 173.448 159.84 
" clip-path="url(#p5702a8e54e)" style="fill: none; stroke: #ff0000; stroke-width: 0.9"/>
   </g>
   <g id="LineCollection_62">
    <path d="M 174.276 167.429543 
L 174.276 161.610457 
" clip-path="url(#p5702a8e54e)" style="fill: none; stroke: #ff0000; stroke-width: 0.9"/>
   </g>
   <g id="LineCollection_63">
    <path d="M 175.104 166.595749 
L 175.104 159.84 
" clip-path="url(#p5702a8e54e)" style="fill: none; stroke: #ff0000; stroke-width: 0.9"/>
   </g>
   <g id="LineCollection_64">
    <path d="M 174.384 162.72 
L 174.384 146.736 
" clip-path="url(#p5702a8e54e)" style="fill: none; stroke: #ff0000; stroke-width: 0.9"/>
   </g>
   <g id="LineCollection_65">
    <path d="M 175.608 157.574137 
L 175.608 146.736 
" clip-path="url(#p5702a8e54e)" style="fill: none; stroke: #ff0000; stroke-width: 0.9"/>
   </g>
   <g id="LineCollection_66">
    <path d="M 175.032 146.88 
L 175.032 140.201291 
" clip-path="url(#p5702a8e54e)" style="fill: none; stroke: #ff0000; stroke-width: 0.9"/>
   </g>
   <g id="LineCollection_67">
    <path d="M 175.968 144.186393 
L 175.968 138.96 
" clip-path="url(#p5702a8e54e)" style="fill: none; stroke: #ff0000; stroke-width: 0.9"/>
   </g>
   <g id="LineCollection_68">
    <path d="M 177.552 148.536 
L 177.552 133.416 
" clip-path="url(#p5702a8e54e)" style="fill: none; stroke: #ff0000; stroke-width: 0.9"/>
   </g>
   <g id="LineCollection_69">
    <path d="M 178.416 147.066815 
L 178.416 136.35437 
" clip-path="url(#p5702a8e54e)" style="fill: none; stroke: #ff0000; stroke-width: 0.9"/>
   </g>
   <g id="LineCollection_70">
    <path d="M 179.28 145.245308 
L 179.28 135.061346 
" clip-path="url(#p5702a8e54e)" style="fill: none; stroke: #ff0000; stroke-width: 0.9"/>
   </g>
   <g id="LineCollection_71">
    <path d="M 180.144 145.210958 
L 180.144 133.416 
" clip-path="url(#p5702a8e54e)" style="fill: none; stroke: #ff0000; stroke-width: 0.9"/>
   </g>
   <g id="LineCollection_72">
    <path d="M 178.812 156.816 
L 178.812 148.536 
" clip-path="url(#p5702a8e54e)" style="fill: none; stroke: #ff0000; stroke-width: 0.9"/>
   </g>
   <g id="LineCollection_73">
    <path d="M 181.44 133.92 
L 181.44 111.6 
" clip-path="url(#p5702a8e54e)" style="fill: none; stroke: #ff0000; stroke-width: 0.9"/>
   </g>
   <g id="LineCollection_74">
    <path d="M 182.376 131.70768 
L 182.376 113.81232 
" clip-path="url(#p5702a8e54e)" style="fill: none; stroke: #ff0000; stroke-width: 0.9"/>
   </g>
   <g id="LineCollection_75">
    <path d="M 183.312 127.102292 
L 183.312 111.6 
" clip-path="url(#p5702a8e54e)" style="fill: none; stroke: #ff0000; stroke-width: 0.9"/>
   </g>
   <g id="LineCollection_76">
    <path d="M 182.664 111.6 
L 182.664 102.096 
" clip-path="url(#p5702a8e54e)" style="fill: none; stroke: #ff0000; stroke-width: 0.9"/>
   </g>
   <g id="LineCollection_77">
    <path d="M 183.888 109.788458 
L 183.888 102.096 
" clip-path="url(#p5702a8e54e)" style="fill: none; stroke: #ff0000; stroke-width: 0.9"/>
   </g>
   <g id="LineCollection_78">
    <path d="M 184.752 106.848 
L 184.752 92.52 
" clip-path="url(#p5702a8e54e)" style="fill: none; stroke: #ff0000; stroke-width: 0.9"/>
   </g>
   <g id="LineCollection_79">
    <path d="M 185.544 103.581688 
L 185.544 92.52 
" clip-path="url(#p5702a8e54e)" style="fill: none; stroke: #ff0000; stroke-width: 0.9"/>
   </g>
   <g id="LineCollection_80">
    <path d="M 185.832 93.888 
L 185.832 88.416 
" clip-path="url(#p5702a8e54e)" style="fill: none; stroke: #008000; stroke-width: 0.9"/>
   </g>
   <g id="LineCollection_81">
    <path d="M 186.408 108.139903 
L 186.408 98.64 
" clip-path="url(#p5702a8e54e)" style="fill: none; stroke: #c05000; stroke-width: 0.9"/>
   </g>
   <g id="LineCollection_82">
    <path d="M 187.632 111.6 
L 187.632 104.465528 
" clip-path="url(#p5702a8e54e)" style="fill: none; stroke: #c05000; stroke-width: 0.9"/>
   </g>
   <g id="LineCollection_83">
    <path d="M 186.552 121.116978 
L 186.552 111.6 
" clip-path="url(#p5702a8e54e)" style="fill: none; stroke: #008000; stroke-width: 0.9"/>
   </g>
   <g id="LineCollection_84">
    <path d="M 187.704 127.944 
L 187.704 115.955333 
" clip-path="url(#p5702a8e54e)" style="fill: none; stroke: #008000; stroke-width: 0.9"/>
   </g>
   <g id="LineCollection_85">
    <path d="M 187.632 134.136 
L 187.632 127.944 
" clip-path="url(#p5702a8e54e)" style="fill: none; stroke: #ff0000; stroke-width: 0.9"/>
   </g>
   <g id="LineCollection_86">
    <path d="M 189.756 115.2 
L 189.756 102.096 
" clip-path="url(#p5702a8e54e)" style="fill: none; stroke: #008000; stroke-width: 0.9"/>
   </g>
   <g id="LineCollection_87">
    <path d="M 190.512 119.088 
L 190.512 106.687916 
" clip-path="url(#p5702a8e54e)" style="fill: none; stroke: #ff0000; stroke-width: 0.9"/>
   </g>
   <g id="LineCollection_88">
    <path d="M 191.376 115.791646 
L 191.376 103.464 
" clip-path="url(#p5702a8e54e)" style="fill: none; stroke: #ff0000; stroke-width: 0.9"/>
   </g>
   <g id="LineCollection_89">
    <path d="M 191.772 106.848 
L 191.772 97.92 
" clip-path="url(#p5702a8e54e)" style="fill: none; stroke: #008000; stroke-width: 0.9"/>
   </g>
   <g id="LineCollection_90">
    <path d="M 192.888 110.54642 
L 192.888 103.464 
" clip-path="url(#p5702a8e54e)" style="fill: none; stroke: #008000; stroke-width: 0.9"/>
   </g>
   <g id="LineCollection_91">
    <path d="M 193.752 115.92 
L 193.752 106.485724 
" clip-path="url(#p5702a8e54e)" style="fill: none; stroke: #008000; stroke-width: 0.9"/>
   </g>
   <g id="LineCollection_92">
    <path d="M 194.616 102.260704 
L 194.616 97.344 
" clip-path="url(#p5702a8e54e)" style="fill: none; stroke: #008000; stroke-width: 0.9"/>
   </g>
   <g id="LineCollection_93">
    <path d="M 195.48 105.12 
L 195.48 98.271157 
" clip-path="url(#p5702a8e54e)" style="fill: none; stroke: #008000; stroke-width: 0.9"/>
   </g>
   <g id="LineCollection_94">
    <path d="M 195.228 112.32 
L 195.228 105.12 
" clip-path="url(#p5702a8e54e)" style="fill: none; stroke: #ff0000; stroke-width: 0.9"/>
   </g>
   <g id="LineCollection_95">
    <path d="M 197.352 107.568 
L 197.352 95.976 
" clip-path="url(#p5702a8e54e)" style="fill: none; stroke: #ff0000; stroke-width: 0.9"/>
   </g>
   <g id="LineCollection_96">
    <path d="M 198.504 105.765639 
L 198.504 95.976 
" clip-path="url(#p5702a8e54e)" style="fill: none; stroke: #ff0000; stroke-width: 0.9"/>
   </g>
   <g id="LineCollection_97">
    <path d="M 199.368 96.624 
L 199.368 88.416 
" clip-path="url(#p5702a8e54e)" style="fill: none; stroke: #ff0000; stroke-width: 0.9"/>
   </g>
   <g id="LineCollection_98">
    <path d="M 200.592 94.260496 
L 200.592 88.416 
" clip-path="url(#p5702a8e54e)" style="fill: none; stroke: #ff0000; stroke-width: 0.9"/>
   </g>
   <g id="LineCollection_99">
    <path d="M 199.44 90.72 
L 199.44 87.12 
" clip-path="url(#p5702a8e54e)" style="fill: none; stroke: #008000; stroke-width: 0.9"/>
   </g>
   <g id="LineCollection_100">
    <path d="M 200.736 95.256 
L 200.736 80.136 
" clip-path="url(#p5702a8e54e)" style="fill: none; stroke: #ff0000; stroke-width: 0.9"/>
   </g>
   <g id="LineCollection_101">
    <path d="M 201.96 89.176348 
L 201.96 80.136 
" clip-path="url(#p5702a8e54e)" style="fill: none; stroke: #ff0000; stroke-width: 0.9"/>
   </g>
   <g id="LineCollection_102">
    <path d="M 206.712 83.232 
L 206.712 46.8 
" clip-path="url(#p5702a8e54e)" style="fill: none; stroke: #ff0000; stroke-width: 0.9"/>
   </g>
   <g id="LineCollection_103">
    <path d="M 208.224 79.2 
L 208.224 64.368 
" clip-path="url(#p5702a8e54e)" style="fill: none; stroke: #008000; stroke-width: 0.9"/>
   </g>
   <g id="LineCollection_104">
    <path d="M 209.232 92.736 
L 209.232 72.864 
" clip-path="url(#p5702a8e54e)" style="fill: none; stroke: #c05000; stroke-width: 0.9"/>
   </g>
   <g id="LineCollection_105">
    <path d="M 211.104 93.384 
L 211.104 65.16 
" clip-path="url(#p5702a8e54e)" style="fill: none; stroke: #008000; stroke-width: 0.9"/>
   </g>
   <g id="LineCollection_106">
    <path d="M 138.24 211.323358 
L 138.24 208.608397 
" clip-path="url(#p5702a8e54e)" style="fill: none; stroke: #ff0000; stroke-width: 0.9"/>
   </g>
   <g id="LineCollection_107">
    <path d="M 139.248 212.684494 
L 139.248 208.505123 
" clip-path="url(#p5702a8e54e)" style="fill: none; stroke: #ff0000; stroke-width: 0.9"/>
   </g>
   <g id="LineCollection_108">
    <path d="M 140.256 211.609235 
L 140.256 208.834871 
" clip-path="url(#p5702a8e54e)" style="fill: none; stroke: #c05000; stroke-width: 0.9"/>
   </g>
   <g id="LineCollection_109">
    <path d="M 141.264 212.74358 
L 141.264 207.489545 
" clip-path="url(#p5702a8e54e)" style="fill: none; stroke: #ff0000; stroke-width: 0.9"/>
   </g>
   <g id="LineCollection_110">
    <path d="M 142.272 212.904926 
L 142.272 206.586564 
" clip-path="url(#p5702a8e54e)" style="fill: none; stroke: #ff0000; stroke-width: 0.9"/>
   </g>
   <g id="LineCollection_111">
    <path d="M 143.28 210.501167 
L 143.28 204.174765 
" clip-path="url(#p5702a8e54e)" style="fill: none; stroke: #ff0000; stroke-width: 0.9"/>
   </g>
   <g id="LineCollection_112">
    <path d="M 144.288 209.491395 
L 144.288 203.624453 
" clip-path="url(#p5702a8e54e)" style="fill: none; stroke: #008000; stroke-width: 0.9"/>
   </g>
   <g id="LineCollection_113">
    <path d="M 145.296 211.463227 
L 145.296 202.639202 
" clip-path="url(#p5702a8e54e)" style="fill: none; stroke: #ff0000; stroke-width: 0.9"/>
   </g>
   <g id="LineCollection_114">
    <path d="M 146.304 206.568606 
L 146.304 200.798839 
" clip-path="url(#p5702a8e54e)" style="fill: none; stroke: #008000; stroke-width: 0.9"/>
   </g>
   <g id="LineCollection_115">
    <path d="M 147.312 207.052797 
L 147.312 198.642544 
" clip-path="url(#p5702a8e54e)" style="fill: none; stroke: #ff0000; stroke-width: 0.9"/>
   </g>
   <g id="LineCollection_116">
    <path d="M 148.32 206.014993 
L 148.32 199.566312 
" clip-path="url(#p5702a8e54e)" style="fill: none; stroke: #008000; stroke-width: 0.9"/>
   </g>
   <g id="LineCollection_117">
    <path d="M 149.328 201.652298 
L 149.328 195.683564 
" clip-path="url(#p5702a8e54e)" style="fill: none; stroke: #c05000; stroke-width: 0.9"/>
   </g>
   <g id="LineCollection_118">
    <path d="M 150.336 201.287631 
L 150.336 193.989688 
" clip-path="url(#p5702a8e54e)" style="fill: none; stroke: #ff0000; stroke-width: 0.9"/>
   </g>
   <g id="LineCollection_119">
    <path d="M 151.344 199.583824 
L 151.344 192.943342 
" clip-path="url(#p5702a8e54e)" style="fill: none; stroke: #ff0000; stroke-width: 0.9"/>
   </g>
   <g id="LineCollection_120">
    <path d="M 152.352 197.378348 
L 152.352 193.248349 
" clip-path="url(#p5702a8e54e)" style="fill: none; stroke: #ff0000; stroke-width: 0.9"/>
   </g>
   <g id="LineCollection_121">
    <path d="M 153.36 198.653121 
L 153.36 193.76197 
" clip-path="url(#p5702a8e54e)" style="fill: none; stroke: #c05000; stroke-width: 0.9"/>
   </g>
   <g id="LineCollection_122">
    <path d="M 154.368 197.886072 
L 154.368 191.258773 
" clip-path="url(#p5702a8e54e)" style="fill: none; stroke: #ff0000; stroke-width: 0.9"/>
   </g>
   <g id="LineCollection_123">
    <path d="M 155.376 195.184606 
L 155.376 190.047319 
" clip-path="url(#p5702a8e54e)" style="fill: none; stroke: #ff0000; stroke-width: 0.9"/>
   </g>
   <g id="LineCollection_124">
    <path d="M 156.384 194.28824 
L 156.384 187.097118 
" clip-path="url(#p5702a8e54e)" style="fill: none; stroke: #ff0000; stroke-width: 0.9"/>
   </g>
   <g id="LineCollection_125">
    <path d="M 157.392 193.043888 
L 157.392 184.818725 
" clip-path="url(#p5702a8e54e)" style="fill: none; stroke: #008000; stroke-width: 0.9"/>
   </g>
   <g id="LineCollection_126">
    <path d="M 158.4 191.322025 
L 158.4 182.752676 
" clip-path="url(#p5702a8e54e)" style="fill: none; stroke: #ff0000; stroke-width: 0.9"/>
   </g>
   <g id="LineCollection_127">
    <path d="M 159.408 186.687609 
L 159.408 180.649424 
" clip-path="url(#p5702a8e54e)" style="fill: none; stroke: #008000; stroke-width: 0.9"/>
   </g>
   <g id="LineCollection_128">
    <path d="M 160.416 182.122789 
L 160.416 176.952063 
" clip-path="url(#p5702a8e54e)" style="fill: none; stroke: #ff0000; stroke-width: 0.9"/>
   </g>
   <g id="patch_3">
    <path d="M 44.28 253.8 
L 44.28 37.8 
" style="fill: none; stroke: #ffffff; stroke-width: 0.8; stroke-linejoin: miter; stroke-linecap: square"/>
   </g>
   <g id="patch_4">
    <path d="M 453.24 253.8 
L 453.24 37.8 
" style="fill: none; stroke: #ffffff; stroke-width: 0.8; stroke-linejoin: miter; stroke-linecap: square"/>
   </g>
   <g id="patch_5">
    <path d="M 44.28 253.8 
L 453.24 253.8 
" style="fill: none; stroke: #ffffff; stroke-width: 0.8; stroke-linejoin: miter; stroke-linecap: square"/>
   </g>
   <g id="patch_6">
    <path d="M 44.28 37.8 
L 453.24 37.8 
" style="fill: none; stroke: #ffffff; stroke-width: 0.8; stroke-linejoin: miter; stroke-linecap: square"/>
   </g>
  </g>
  <g id="axes_2">
   <g id="line2d_88">
    <path d="M 44.28 219.24 
L 453.24 219.24 
" clip-path="url(#p5702a8e54e)" style="fill: none; stroke-dasharray: 1.85,0.8; stroke-dashoffset: 0; stroke: #ffffff; stroke-opacity: 0.18; stroke-width: 0.5"/>
   </g>
   <g id="line2d_89">
    <path d="M 44.28 219.24 
L 453.24 219.24 
" clip-path="url(#p5702a8e54e)" style="fill: none; stroke: #ffffff; stroke-opacity: 0.12; stroke-width: 0.5; stroke-linecap: square"/>
   </g>
   <g id="line2d_90">
    <path d="M 44.28 184.68 
L 453.24 184.68 
" clip-path="url(#p5702a8e54e)" style="fill: none; stroke-dasharray: 1.85,0.8; stroke-dashoffset: 0; stroke: #ffffff; stroke-opacity: 0.18; stroke-width: 0.5"/>
   </g>
   <g id="line2d_91">
    <path d="M 44.28 184.68 
L 453.24 184.68 
" clip-path="url(#p5702a8e54e)" style="fill: none; stroke: #ffffff; stroke-opacity: 0.12; stroke-width: 0.5; stroke-linecap: square"/>
   </g>
   <g id="line2d_92">
    <path d="M 44.28 150.12 
L 453.24 150.12 
" clip-path="url(#p5702a8e54e)" style="fill: none; stroke-dasharray: 1.85,0.8; stroke-dashoffset: 0; stroke: #ffffff; stroke-opacity: 0.18; stroke-width: 0.5"/>
   </g>
   <g id="line2d_93">
    <path d="M 44.28 150.12 
L 453.24 150.12 
" clip-path="url(#p5702a8e54e)" style="fill: none; stroke: #ffffff; stroke-opacity: 0.12; stroke-width: 0.5; stroke-linecap: square"/>
   </g>
   <g id="line2d_94">
    <path d="M 44.28 114.84 
L 453.24 114.84 
" clip-path="url(#p5702a8e54e)" style="fill: none; stroke-dasharray: 1.85,0.8; stroke-dashoffset: 0; stroke: #ffffff; stroke-opacity: 0.18; stroke-width: 0.5"/>
   </g>
   <g id="line2d_95">
    <path d="M 44.28 114.84 
L 453.24 114.84 
" clip-path="url(#p5702a8e54e)" style="fill: none; stroke: #ffffff; stroke-opacity: 0.12; stroke-width: 0.5; stroke-linecap: square"/>
   </g>
   <g id="line2d_96">
    <path d="M 44.28 80.28 
L 453.24 80.28 
" clip-path="url(#p5702a8e54e)" style="fill: none; stroke-dasharray: 1.85,0.8; stroke-dashoffset: 0; stroke: #ffffff; stroke-opacity: 0.18; stroke-width: 0.5"/>
   </g>
   <g id="line2d_97">
    <path d="M 44.28 80.28 
L 453.24 80.28 
" clip-path="url(#p5702a8e54e)" style="fill: none; stroke: #ffffff; stroke-opacity: 0.12; stroke-width: 0.5; stroke-linecap: square"/>
   </g>
   <g id="line2d_98">
    <path d="M 44.28 45.72 
L 453.24 45.72 
" clip-path="url(#p5702a8e54e)" style="fill: none; stroke-dasharray: 1.85,0.8; stroke-dashoffset: 0; stroke: #ffffff; stroke-opacity: 0.18; stroke-width: 0.5"/>
   </g>
   <g id="line2d_99">
    <path d="M 44.28 45.72 
L 453.24 45.72 
" clip-path="url(#p5702a8e54e)" style="fill: none; stroke: #ffffff; stroke-opacity: 0.12; stroke-width: 0.5; stroke-linecap: square"/>
   </g>
   <g id="matplotlib.axis_3">
    <g id="ytick_6">
     <g id="line2d_100">
      <g>
       <path d="M 0 0  L 3.5 0  " transform="translate(453.2400 219.2400)" style="fill: #ffffff; stroke: #ffffff; stroke-width: 0.8"/>
      </g>
     </g>
     <g id="text_31">
      <g transform="translate(-0.288 -0.360)"><text style="letter-spacing: -0.35px; font-size: 10px; font-family: 'DejaVu Sans', 'Liberation Sans', sans-serif; text-anchor: start; fill: #e9e9e9" x="460.24" y="223.039219" transform="rotate(-0 460.24 223.039219)">1.0</text></g>
     </g>
    </g>
    <g id="ytick_7">
     <g id="line2d_101">
      <g>
       <path d="M 0 0  L 3.5 0  " transform="translate(453.2400 184.6800)" style="fill: #ffffff; stroke: #ffffff; stroke-width: 0.8"/>
      </g>
     </g>
     <g id="text_32">
      <g transform="translate(-0.288 -0.360)"><text style="letter-spacing: -0.35px; font-size: 10px; font-family: 'DejaVu Sans', 'Liberation Sans', sans-serif; text-anchor: start; fill: #e9e9e9" x="460.24" y="188.335219" transform="rotate(-0 460.24 188.335219)">1.2</text></g>
     </g>
    </g>
    <g id="ytick_8">
     <g id="line2d_102">
      <g>
       <path d="M 0 0  L 3.5 0  " transform="translate(453.2400 150.1200)" style="fill: #ffffff; stroke: #ffffff; stroke-width: 0.8"/>
      </g>
     </g>
     <g id="text_33">
      <g transform="translate(-0.288 -0.360)"><text style="letter-spacing: -0.35px; font-size: 10px; font-family: 'DejaVu Sans', 'Liberation Sans', sans-serif; text-anchor: start; fill: #e9e9e9" x="460.24" y="153.631219" transform="rotate(-0 460.24 153.631219)">1.4</text></g>
     </g>
    </g>
    <g id="ytick_9">
     <g id="line2d_103">
      <g>
       <path d="M 0 0  L 3.5 0  " transform="translate(453.2400 114.8400)" style="fill: #ffffff; stroke: #ffffff; stroke-width: 0.8"/>
      </g>
     </g>
     <g id="text_34">
      <g transform="translate(-0.288 -0.360)"><text style="letter-spacing: -0.35px; font-size: 10px; font-family: 'DejaVu Sans', 'Liberation Sans', sans-serif; text-anchor: start; fill: #e9e9e9" x="460.24" y="118.927219" transform="rotate(-0 460.24 118.927219)">1.6</text></g>
     </g>
    </g>
    <g id="ytick_10">
     <g id="line2d_104">
      <g>
       <path d="M 0 0  L 3.5 0  " transform="translate(453.2400 80.2800)" style="fill: #ffffff; stroke: #ffffff; stroke-width: 0.8"/>
      </g>
     </g>
     <g id="text_35">
      <g transform="translate(-0.288 -0.360)"><text style="letter-spacing: -0.35px; font-size: 10px; font-family: 'DejaVu Sans', 'Liberation Sans', sans-serif; text-anchor: start; fill: #e9e9e9" x="460.24" y="84.223219" transform="rotate(-0 460.24 84.223219)">1.8</text></g>
     </g>
    </g>
    <g id="ytick_11">
     <g id="line2d_105">
      <g>
       <path d="M 0 0  L 3.5 0  " transform="translate(453.2400 45.7200)" style="fill: #ffffff; stroke: #ffffff; stroke-width: 0.8"/>
      </g>
     </g>
     <g id="text_36">
      <g transform="translate(-0.288 -0.360)"><text style="letter-spacing: -0.35px; font-size: 10px; font-family: 'DejaVu Sans', 'Liberation Sans', sans-serif; text-anchor: start; fill: #e9e9e9" x="460.24" y="49.519219" transform="rotate(-0 460.24 49.519219)">2.0</text></g>
     </g>
    </g>
    <g id="text_37">
     <g transform="translate(0.720 1.584)"><text style="font-size: 10px; font-family: 'DejaVu Sans', 'Liberation Sans', sans-serif; text-anchor: middle; fill: #f3f3f3" x="487.741562" y="145.8" transform="rotate(-90 487.741562 145.8)">Return</text></g>
    </g>
   </g>
   <g id="line2d_106">
    <path d="M 44.28 215.712 
L 45.072 215.712 
L 46.944 216.288 
L 49.464 217.584 
L 51.984 218.16 
L 54.504 217.872 
L 56.664 220.464 
L 58.824 215.064 
L 60.696 211.32 
L 62.64 208.296 
L 64.512 208.8 
L 66.384 210.672 
L 68.904 213.84 
L 70.128 209.448 
L 72.648 208.512 
L 75.096 205.056 
L 77.616 202.536 
L 80.136 200.664 
L 82.656 202.32 
L 84.528 199.44 
L 87.624 200.664 
L 90.144 198.144 
L 93.312 196.632 
L 98.28 196.272 
L 100.152 197.496 
L 102.528 199.8 
L 104.04 194.184 
L 105.12 192.168 
L 107.064 191.16 
L 108.648 190.656 
L 110.736 186.984 
L 112.824 182.808 
L 114.912 183.888 
L 117 184.032 
L 118.44 183.816 
L 119.52 180.36 
L 120.096 180.216 
L 122.184 178.632 
L 124.272 177.048 
L 126.864 176.04 
L 128.952 176.544 
L 130.536 177.624 
L 131.616 174.456 
L 132.624 174.96 
L 133.56 175.248 
L 135.072 174.24 
L 136.656 169.632 
L 138.168 168.12 
L 139.824 168.264 
L 141.12 165.888 
L 142.416 163.8 
L 144.072 163.512 
L 145.872 162.72 
L 146.664 160.632 
L 147.384 156.6 
L 148.176 152.136 
L 149.256 150.048 
L 150.552 149.256 
L 152.136 148.464 
L 153.432 146.88 
L 154.224 144.216 
L 155.016 143.64 
L 156.384 144.216 
L 157.392 142.632 
L 157.968 139.968 
L 158.616 132.624 
L 159.408 129.456 
L 160.704 127.872 
L 161.496 125.28 
L 162.072 122.04 
L 162.36 118.224 
L 163.152 119.16 
L 164.016 121.32 
L 165.312 121.608 
L 166.536 117.72 
L 167.472 119.232 
L 168.192 119.808 
L 169.2 117.864 
L 170.208 116.28 
L 171 114.84 
L 172.152 111.168 
L 173.448 106.992 
L 174.024 102.744 
L 174.24 97.416 
L 174.672 92.16 
L 176.256 89.424 
L 178.128 85.824 
L 179.28 82.656 
L 180 78.48 
L 180.216 74.52 
L 180.936 70.416 
L 181.224 66.816 
L 181.728 64.224 
L 182.52 60.696 
L 183.24 56.16 
L 183.888 51.48 
L 184.68 47.592 
L 185.256 46.368 
L 186.048 50.184 
L 186.552 52.344 
L 196.488 52.344 
L 197.856 50.04 
L 198.72 49.968 
L 211.212 49.968 
" clip-path="url(#p5702a8e54e)" style="fill: none; stroke: #ff00ff; stroke-width: 2; stroke-linecap: square"/>
   </g>
   <g id="line2d_107">
    <path d="M 44.28 218.808 
L 45.072 218.808 
L 46.944 219.456 
L 48.816 224.424 
L 50.688 230.112 
L 52.56 229.464 
L 54.504 227.592 
L 55.728 231.984 
L 57.6 229.464 
L 59.472 223.2 
L 61.992 219.456 
L 63.936 222.12 
L 66.24 225.144 
L 68.544 227.52 
L 70.056 223.632 
L 72 222.84 
L 74.52 222.552 
L 77.76 220.464 
L 79.776 221.256 
L 80.784 222.552 
L 82.656 226.944 
L 84.528 224.424 
L 87.048 223.848 
L 89.496 221.328 
L 92.016 218.808 
L 94.536 220.68 
L 97.056 221.616 
L 98.28 223.2 
L 100.512 224.136 
L 102.024 227.232 
L 102.528 234.432 
L 103.536 242.784 
L 104.544 239.544 
L 105.624 236.088 
L 107.136 236.952 
L 108.648 239.184 
L 110.232 235.944 
L 112.248 234.432 
L 114.336 233.352 
L 116.352 234.792 
L 118.368 232.848 
L 120.456 230.328 
L 123.048 226.728 
L 124.56 227.736 
L 125.352 227.664 
L 126.792 227.664 
L 128.304 229.104 
L 129.744 230.616 
L 130.824 231.336 
L 131.976 229.104 
L 133.416 230.616 
L 134.856 230.256 
L 136.728 225.864 
L 138.24 224.784 
L 140.328 225.144 
L 141.84 222.768 
L 143.424 221.184 
L 144.288 224.064 
L 145.152 225.072 
L 146.592 223.632 
L 147.744 219.24 
L 148.824 216.288 
L 150.264 215.208 
L 151.776 214.416 
L 153.216 213.696 
L 154.296 210.744 
L 155.448 211.536 
L 156.888 210.384 
L 157.968 208.584 
L 158.76 203.76 
L 160.344 200.016 
L 161.928 192.816 
L 162.936 193.824 
L 164.016 196.416 
L 165.528 193.824 
L 166.536 194.328 
L 167.76 198.432 
L 168.84 197.352 
L 170.136 194.688 
L 171.432 193.392 
L 172.8 191.52 
L 173.808 189.432 
L 174.096 183.024 
L 174.384 178.848 
L 175.896 175.752 
L 177.912 172.152 
L 179.424 167.544 
L 180.504 161.352 
L 181.008 160.2 
L 182.088 155.088 
L 182.88 149.976 
L 183.6 144.072 
L 184.608 138.6 
L 185.4 147.024 
L 186.552 155.088 
L 186.912 160.2 
L 187.632 151.416 
L 188.712 148.464 
L 189.792 153.576 
L 190.944 146.304 
L 192.384 148.464 
L 193.464 151.056 
L 194.616 146.304 
L 196.416 144.792 
L 197.928 141.12 
L 199.152 137.304 
L 200.52 132.912 
L 201.96 129.384 
L 203.472 126.432 
L 204.84 122.76 
L 206.28 118.944 
L 207.576 122.76 
L 208.368 124.416 
L 208.944 124.92 
L 209.52 131.76 
L 210.096 126.72 
L 210.672 125.64 
L 211.212 137.376 
" clip-path="url(#p5702a8e54e)" style="fill: none; stroke: #00ffff; stroke-width: 2; stroke-linecap: square"/>
   </g>
   <g id="patch_7">
    <path d="M 44.28 253.8 
L 44.28 37.8 
" style="fill: none; stroke: #ffffff; stroke-width: 0.8; stroke-linejoin: miter; stroke-linecap: square"/>
   </g>
   <g id="patch_8">
    <path d="M 453.24 253.8 
L 453.24 37.8 
" style="fill: none; stroke: #ffffff; stroke-width: 0.8; stroke-linejoin: miter; stroke-linecap: square"/>
   </g>
   <g id="patch_9">
    <path d="M 44.28 253.8 
L 453.24 253.8 
" style="fill: none; stroke: #ffffff; stroke-width: 0.8; stroke-linejoin: miter; stroke-linecap: square"/>
   </g>
   <g id="patch_10">
    <path d="M 44.28 37.8 
L 453.24 37.8 
" style="fill: none; stroke: #ffffff; stroke-width: 0.8; stroke-linejoin: miter; stroke-linecap: square"/>
   </g>
   <g id="legend_1">
    <g id="patch_LEG">
     <path d="M 51.28 75.94825 
L 151.0175 75.94825 
Q 153.0175 75.94825 153.0175 73.94825 
L 153.0175 44.80000 
Q 153.0175 42.80000 151.0175 42.80000 
L 51.28 42.80000 
Q 49.28 42.80000 49.28 44.80000 
L 49.28 73.94825 
Q 49.28 75.94825 51.28 75.94825 
z
" style="stroke: #cccccc; stroke-linejoin: miter"/>
    </g>
    <g id="line2d_108">
     <path d="M 53.28 50.898438 
L 63.28 50.898438 
L 73.28 50.898438 
" style="fill: none; stroke: #ff00ff; stroke-width: 2; stroke-linecap: square"/>
    </g>
    <g id="text_38">
     <g transform="translate(0.000 -0.720)"><text style="font-size: 10px; font-family: 'DejaVu Sans', 'Liberation Sans', sans-serif; text-anchor: start; fill: #f3f3f3" x="81.28" y="54.398438" transform="rotate(-0 81.28 54.398438)">AI Strategy</text></g>
    </g>
    <g id="line2d_109">
     <path d="M 53.28 65.576563 
L 63.28 65.576563 
L 73.28 65.576563 
" style="fill: none; stroke: #00ffff; stroke-width: 2; stroke-linecap: square"/>
    </g>
    <g id="text_39">
     <text style="font-size: 10px; font-family: 'DejaVu Sans', 'Liberation Sans', sans-serif; text-anchor: start; fill: #f3f3f3" x="81.28" y="69.076563" transform="rotate(-0 81.28 69.076563)">Buy-and-Hold</text>
    </g>
   </g>
  </g>
  <g id="text_40">
   <text style="font-size: 12px; font-family: 'DejaVu Sans'; text-anchor: middle; fill: #f3f3f3" transform="translate(247.968 17.100) scale(0.9940 1.0800)">fund [561380.SH]</text>
  </g>
 </g>
 <defs>
  <clipPath id="p5702a8e54e">
   <rect x="44.28" y="37.8" width="408.96" height="216"/>
  </clipPath>
 </defs>
</svg>

</body></html>
